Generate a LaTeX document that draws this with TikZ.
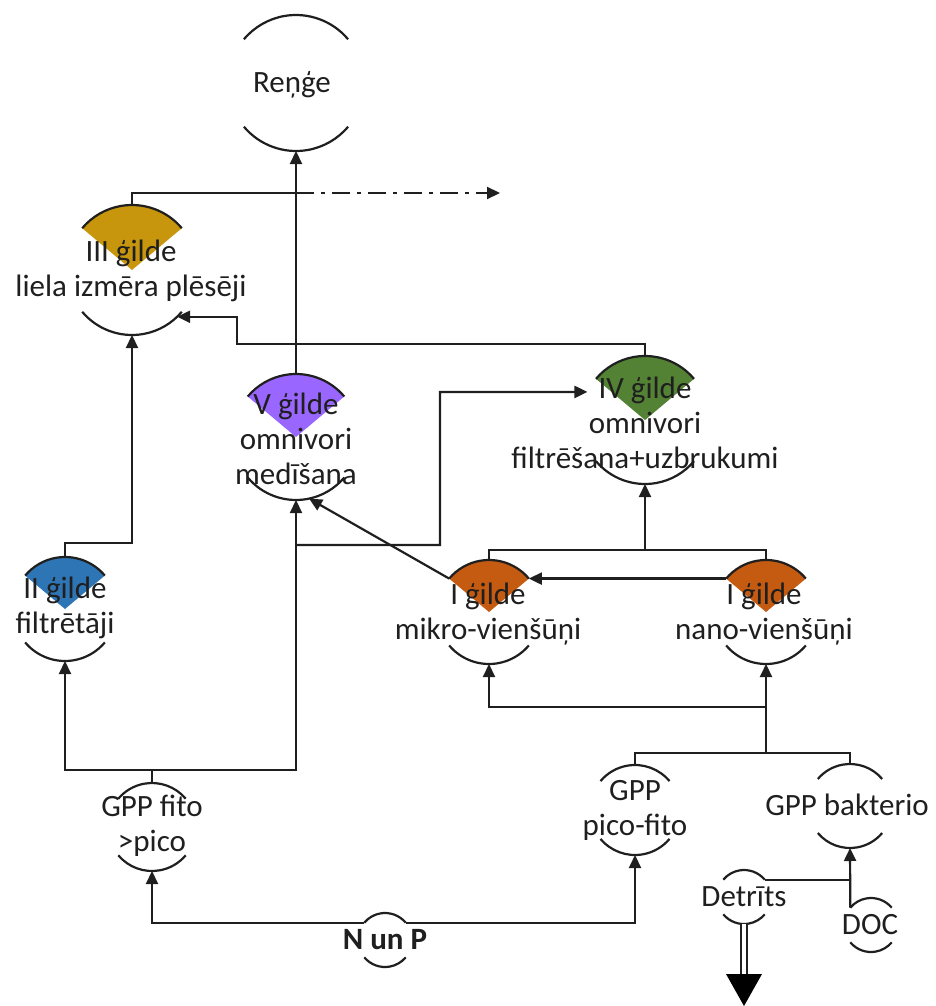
\documentclass[tikz,border=0pt]{standalone}
\usepackage{fontspec}
\setmainfont{Carlito}
\usetikzlibrary{arrows.meta,calc}
\definecolor{cgold}{RGB}{200,150,12}
\definecolor{cpurple}{RGB}{153,102,255}
\definecolor{cgreen}{RGB}{84,130,53}
\definecolor{cblue}{RGB}{46,117,182}
\definecolor{corange}{RGB}{197,90,17}
\newcommand\ringnode[4]{\node[ring,minimum size={2*#4pt}] (#1) at (#2,-#3) {};}
\newcommand\ringarcs[2]{%
  \draw[ringline] (#1.40) arc[start angle=40,end angle=140,radius=#2pt];
  \draw[ringline] (#1.220) arc[start angle=220,end angle=320,radius=#2pt];}
\newcommand\guildwedge[3]{\fill[#3] (#1.center) -- (#1.40) arc[start angle=40,end angle=140,radius=#2pt] -- cycle;}
\begin{document}
\begin{tikzpicture}[x=1pt,y=1pt,
  ring/.style={circle,inner sep=0pt,outer sep=0pt},
  ringline/.style={line width=2.2pt,black!88},
  lbl/.style={font=\fontsize{31}{35}\selectfont,align=center,text=black!88,inner sep=0pt},
  ln/.style={line width=2.2pt,black!88},
  arr/.style={ln,-{Triangle[length=13pt,width=12pt]}}]
\useasboundingbox (0,0) rectangle (936,-1006);
% ring nodes
\ringnode{R}{296}{83}{68}
\ringnode{III}{132}{270}{65}
\ringnode{V}{296}{437}{63}
\ringnode{IV}{645}{420}{64}
\ringnode{II}{65}{609}{52}
\ringnode{mikro}{489}{612}{52}
\ringnode{nano}{766}{612}{52}
\ringnode{fito}{152}{827}{44}
\ringnode{pico}{635}{810}{45}
\ringnode{bakt}{850}{806}{42}
\ringnode{Det}{744}{897}{27}
\ringnode{DOC}{871}{925}{27}
\ringnode{NP}{385}{940}{27}
% wedges
\guildwedge{III}{65}{cgold}
\guildwedge{V}{63}{cpurple}
\guildwedge{IV}{64}{cgreen}
\guildwedge{II}{52}{cblue}
\guildwedge{mikro}{52}{corange}
\guildwedge{nano}{52}{corange}
% labels
\node[lbl] (tR) at (292,-85) {Reņģe};
\node[lbl] (tIII) at (131,-271) {III ģilde\\liela izmēra plēsēji};
\node[lbl] (tV) at (296,-439) {V ģilde\\omnivori\\medīšana};
\node[lbl] (tIV) at (645,-423) {IV ģilde\\omnivori\\filtrēšana+uzbrukumi};
\node[lbl] (tII) at (65,-608) {II ģilde\\filtrētāji};
\node[lbl] (tmikro) at (488,-614) {I ģilde\\mikro-vienšūņi};
\node[lbl] (tnano) at (764,-614) {I ģilde\\nano-vienšūņi};
\node[lbl] (tfito) at (152,-826) {GPP fito\\>pico};
\node[lbl] (tpico) at (635,-810) {GPP\\pico-fito};
\node[lbl] (tbakt) at (847,-805) {GPP bakterio};
\node[lbl] (tDet) at (744,-897) {Detrīts};
\node[lbl] (tDOC) at (870,-925) {DOC};
\node[lbl,font=\fontsize{31}{35}\selectfont\bfseries] (tNP) at (385,-940) {N un P};
% arcs
\ringarcs{R}{68}
\ringarcs{III}{65}
\ringarcs{V}{63}
\ringarcs{IV}{64}
\ringarcs{II}{52}
\ringarcs{mikro}{52}
\ringarcs{nano}{52}
\ringarcs{fito}{44}
\ringarcs{pico}{45}
\ringarcs{bakt}{42}
\ringarcs{Det}{27}
\ringarcs{DOC}{27}
\ringarcs{NP}{27}
% connectors
\coordinate (j1) at (296,-193);
\coordinate (o1) at (500,-193);
\coordinate (k1) at (237,-344);
\coordinate (f1) at (152,-770);
\coordinate (f2) at (296,-545);
\coordinate (g1) at (440,-392);
\coordinate (p1) at (766,-753);
\coordinate (p2) at (766,-707);
\draw[arr] (V.north) -- (R.south);
\draw[ln] (III.north) |- (j1);
\draw[arr,dash pattern=on 18pt off 7pt on 4pt off 7pt] (j1) -- (o1);
\draw[arr] (II.north) -- ++(0,14) -| (III.south);
\draw[arr] (IV.north) |- (k1) |- (III.-46);
\draw[ln] (fito.north) -- (f1);
\draw[arr] (f1) -| (II.south);
\draw[arr] (f1) -| (V.south);
\draw[arr] (f2) -| (g1) -- (IV.154);
\draw[arr] (mikro.140) -- (V.-78);
\draw[arr] (nano.140) -- (mikro.40);
\draw[ln] (mikro.north) -- ++(0,10) -| (nano.north);
\draw[arr] (IV.south |- 0,-550) -- (IV.south);
\draw[ln] (pico.north) -- ++(0,12) -| (bakt.north);
\draw[arr] (p1) -- (nano.south);
\draw[arr] (p2) -| (mikro.south);
\draw[arr] (NP.140) -| (fito.south);
\draw[arr] (NP.40) -| (pico.south);
\draw[ln] (Det.40) -- (Det.40 -| bakt.south);
\draw[arr] (DOC.140) -- (bakt.south);
\draw[line width=2.2pt,black!88,double=white,double distance=4pt] (Det.south) -- ++(0,-50) coordinate (dh);
\fill[black] ($(dh)+(-18,0)$) -- ++(36,0) -- ++(-18,-32) -- cycle;
\end{tikzpicture}
\end{document}
